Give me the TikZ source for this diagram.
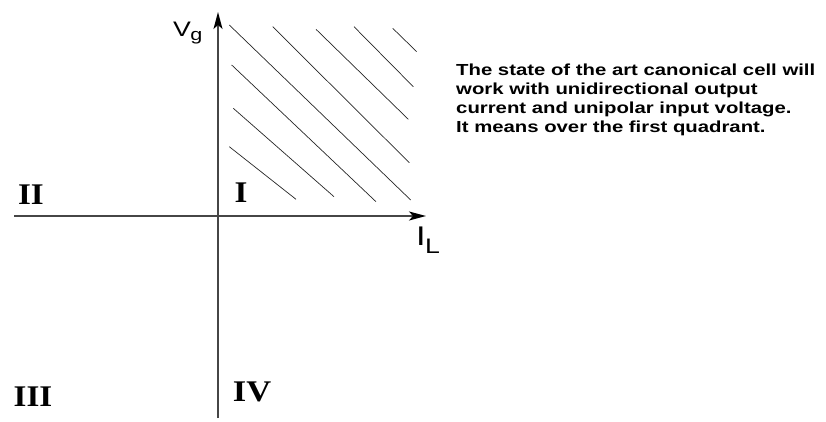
\documentclass[tikz,border=0pt]{standalone}
\usepackage{fontspec}
\usepackage{graphicx}
\setmainfont{Liberation Serif}
\newfontfamily\txtfont{Liberation Sans}
\usetikzlibrary{arrows.meta}
\definecolor{axisgray}{RGB}{70,70,70}
\newcommand\hstretch[1]{\scalebox{1.27}[1]{#1}}
\tikzset{
  axisline/.style={draw=axisgray, line width=1.3pt, -{Stealth[length=17pt,width=9pt,inset=4pt,black]}},
  hatchline/.style={draw=black!85, line width=0.7pt},
  quadlabel/.style={font=\fontsize{30}{30}\selectfont\bfseries, inner sep=0pt},
  axislabel/.style={font=\txtfont, inner sep=0pt},
  notetext/.style={font=\txtfont\bfseries\fontsize{16}{16.3}\selectfont, align=left, anchor=north west, inner sep=0pt}
}
\begin{document}
\begin{tikzpicture}[x=1pt,y=-1pt]
\useasboundingbox (0,0) rectangle (826,422);
% axes
\coordinate (vbot) at (218,418);
\coordinate (vtop) at (218,12);
\coordinate (hleft) at (14,216);
\coordinate (hright) at (426,216);
\draw[axisline] (vbot) -- (vtop);
\draw[axisline] (hleft) -- (hright);
% hatch lines
\foreach \a/\b/\c/\d in {229.3/146.7/296/199.3, 233.3/108.3/334/196.7, 231.7/65/376/201.7, 229.3/25/410.7/200, 272.7/26.7/409.3/162.7, 316/29.3/408.3/119.3, 354/26.7/413.3/86.7, 392.7/28.3/416.7/51.7}{
  \draw[hatchline] (\a,\b) -- (\c,\d);
}
% axis labels
\node[axislabel, anchor=base west] (vg) at (173,37) {\hstretch{\fontsize{21}{21}\selectfont V\kern-0.5pt\raisebox{-4pt}{\fontsize{17}{17}\selectfont g}}};
\node[axislabel, anchor=base west] (il) at (416,245) {\hstretch{\fontsize{27}{27}\selectfont I\kern-0.5pt\raisebox{-8pt}{\fontsize{21}{21}\selectfont L}}};
% quadrant labels
\node[quadlabel] (q1) at (241,193) {\scalebox{1.1}[1]{I}};
\node[quadlabel] (q2) at (31,195) {\scalebox{1.1}[1]{II}};
\node[quadlabel] (q3) at (33,397) {\scalebox{1.1}[1]{III}};
\node[quadlabel] (q4) at (252,392) {\scalebox{1.15}[1]{IV}};
% note
\node[notetext] (note) at (456,62) {\hstretch{\renewcommand\arraystretch{1.17}\begin{tabular}{@{}l@{}}The state of the art canonical cell will\\work with unidirectional output\\current and unipolar input voltage.\\It means over the first quadrant.\end{tabular}}};
\end{tikzpicture}
\end{document}
